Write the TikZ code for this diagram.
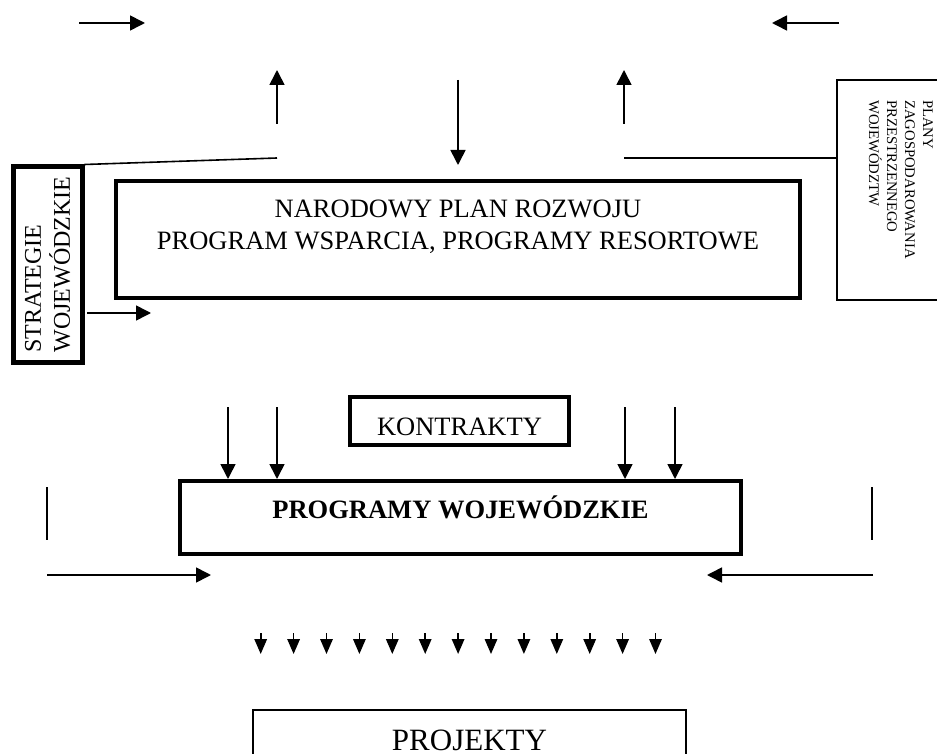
\documentclass[tikz,border=0pt]{standalone}
\usepackage{fontspec}
\setmainfont{Liberation Serif}
\usetikzlibrary{arrows.meta}
\begin{document}
\begin{tikzpicture}[x=1pt,y=-1pt,
  ln/.style={line width=1.6pt},
  arr/.style={ln,-{Triangle[length=15pt,width=15pt]}},
  tinyarr/.style={line width=1.6pt,-{Triangle[length=15pt,width=12.5pt]}},
  box/.style={draw,rectangle,inner sep=0pt},
  txt/.style={font=\fontsize{26.5}{31.5}\selectfont}]
\useasboundingbox (0,0) rectangle (937,754);

% boxes
\node[box, line width=4pt, minimum width=684pt, minimum height=117pt] (npr) at (458,239.5) {};
\node[txt, align=center, inner sep=0pt, anchor=base] (nprt) at (458,249) {NARODOWY PLAN ROZWOJU\\PROGRAM WSPARCIA, PROGRAMY RESORTOWE};
\node[box, line width=5pt, rotate=90, minimum width=195pt, minimum height=69pt, align=left, font=\fontsize{24}{29}\selectfont] (sw) at (47.5,264.5) {STRATEGIE\\WOJEWÓDZKIE};
\node[box, line width=1.5pt, minimum width=103pt, minimum height=220pt] (rb) at (888.5,190) {};
\node[rotate=-90, anchor=north west, align=left, inner sep=0pt, font=\fontsize{14.7}{18}\selectfont] (rbt) at (933,100) {PLANY\\ZAGOSPODAROWANIA\\PRZESTRZENNEGO\\WOJEWÓDZTW};
\node[box, line width=3.5pt, minimum width=219pt, minimum height=48pt, txt, text height=29pt, text depth=0pt] (k) at (459.5,421) {KONTRAKTY};
\node[box, line width=4pt, minimum width=561pt, minimum height=73pt, font=\fontsize{26.5}{31.5}\selectfont\bfseries, text height=10pt, text depth=9pt] (pw) at (460.5,517.5) {PROGRAMY WOJEWÓDZKIE};
\node[box, line width=2pt, minimum width=433pt, anchor=north, font=\fontsize{31}{37}\selectfont, text height=21pt, text depth=40pt, inner ysep=19pt, inner xsep=0pt] (pj) at (469.5,709) {PROJEKTY};

% free coordinates
\coordinate (tl1) at (79,23);   \coordinate (tl2) at (145,23);
\coordinate (tr1) at (839,23);  \coordinate (tr2) at (772,23);
\coordinate (u1a) at (277,124); \coordinate (u1b) at (277,70);
\coordinate (u2a) at (624,124); \coordinate (u2b) at (624,70);
\coordinate (da) at (458,80);   \coordinate (db) at (458,165);
\coordinate (c1) at (277,158);  \coordinate (c2) at (624,158);
\coordinate (sa) at (87,313);   \coordinate (sb) at (151,313);
\coordinate (vl1) at (47,487);  \coordinate (vl2) at (47,540);
\coordinate (vr1) at (872,487); \coordinate (vr2) at (872,540);
\coordinate (hl1) at (47,575);  \coordinate (hl2) at (211,575);
\coordinate (hr1) at (873,575); \coordinate (hr2) at (707,575);

\draw[arr] (tl1) -- (tl2);
\draw[arr] (tr1) -- (tr2);
\draw[arr] (u1a) -- (u1b);
\draw[arr] (u2a) -- (u2b);
\draw[arr] (da) -- (db);
\draw[ln] (sw.south east) -- (c1);
\draw[ln] (c2) -- (c2 -| rb.west);
\draw[arr] (sa) -- (sb);

\foreach \x in {228,277,625,675}
  \draw[arr] (\x,407) -- ({\x},407 |- pw.north);

\draw[ln] (vl1) -- (vl2);
\draw[ln] (vr1) -- (vr2);
\draw[arr] (hl1) -- (hl2);
\draw[arr] (hr1) -- (hr2);

\foreach \i in {0,...,12}
  \draw[tinyarr] ({260.7+\i*32.9},633) -- ({260.7+\i*32.9},654);
\end{tikzpicture}
\end{document}
